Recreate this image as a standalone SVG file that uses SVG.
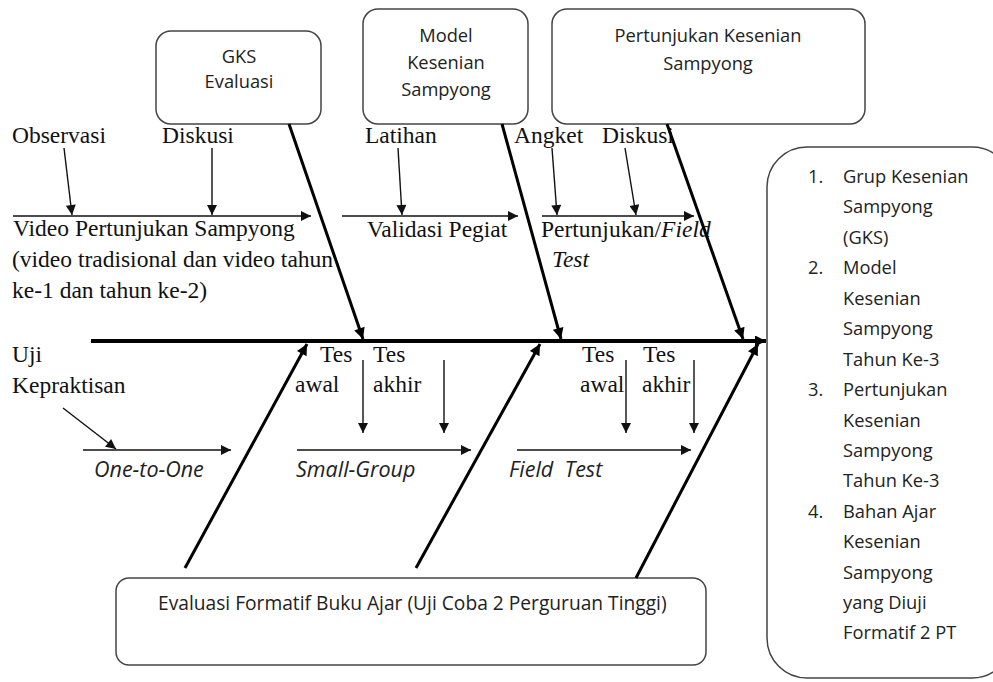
<svg xmlns="http://www.w3.org/2000/svg" width="993" height="682" viewBox="0 0 993 682">
<style>
.box{fill:#fff;stroke:#444;stroke-width:1.5}
.s{font-family:"Liberation Serif","Times New Roman",serif;font-size:23.5px;fill:#111}
.b{font-family:"Open Sans","Liberation Sans",sans-serif;font-size:18.3px;fill:#222}
.bc{text-anchor:middle}
.i{font-family:"Open Sans","Liberation Sans",sans-serif;font-style:italic;font-size:21.5px;fill:#222}
.thin{stroke:#111;stroke-width:1.4;fill:none;marker-end:url(#a)}
.thick{stroke:#000;stroke-width:3;fill:none;marker-end:url(#A)}
</style>
<defs>
<marker id="a" viewBox="0 0 10 10" refX="10" refY="5" markerWidth="12" markerHeight="10" markerUnits="userSpaceOnUse" orient="auto"><path d="M0,0 L10,5 L0,10 z" fill="#111"/></marker>
<marker id="A" viewBox="0 0 10 10" refX="10" refY="5" markerWidth="13" markerHeight="11" markerUnits="userSpaceOnUse" orient="auto"><path d="M0,0 L10,5 L0,10 z" fill="#000"/></marker>
</defs>
<rect width="993" height="682" fill="#fff"/>

<g id="gks">
<rect class="box" x="156" y="31" width="165" height="93" rx="15"/>
<text class="b bc" x="239" y="63">GKS</text>
<text class="b bc" x="239" y="88">Evaluasi</text>
</g>
<g id="model">
<rect class="box" x="363" y="9" width="165" height="115" rx="15"/>
<text class="b bc" x="446" y="42">Model</text>
<text class="b bc" x="446" y="69">Kesenian</text>
<text class="b bc" x="446" y="96">Sampyong</text>
</g>
<g id="pertunjukan">
<rect class="box" x="552" y="9" width="313" height="115" rx="15"/>
<text class="b bc" x="708" y="42">Pertunjukan Kesenian</text>
<text class="b bc" x="708" y="70">Sampyong</text>
</g>
<g id="evaluasi">
<rect class="box" x="116" y="578" width="590" height="87" rx="13"/>
<text class="b" x="158" y="610" style="font-size:19.2px">Evaluasi Formatif Buku Ajar (Uji Coba 2 Perguruan Tinggi)</text>
</g>
<g id="hasil">
<rect class="box" x="767" y="147" width="245" height="531" rx="40"/>
<text class="b" x="808" y="183">1.</text><text class="b" x="843" y="183">Grup Kesenian</text>
<text class="b" x="843" y="213">Sampyong</text>
<text class="b" x="843" y="244">(GKS)</text>
<text class="b" x="808" y="274">2.</text><text class="b" x="843" y="274">Model</text>
<text class="b" x="843" y="305">Kesenian</text>
<text class="b" x="843" y="335">Sampyong</text>
<text class="b" x="843" y="366">Tahun Ke-3</text>
<text class="b" x="808" y="396">3.</text><text class="b" x="843" y="396">Pertunjukan</text>
<text class="b" x="843" y="427">Kesenian</text>
<text class="b" x="843" y="457">Sampyong</text>
<text class="b" x="843" y="487">Tahun Ke-3</text>
<text class="b" x="808" y="518">4.</text><text class="b" x="843" y="518">Bahan Ajar</text>
<text class="b" x="843" y="548">Kesenian</text>
<text class="b" x="843" y="579">Sampyong</text>
<text class="b" x="843" y="609">yang Diuji</text>
<text class="b" x="843" y="639">Formatif 2 PT</text>
</g>

<g id="labels">
<text class="s" x="12" y="143">Observasi</text>
<text class="s" x="162" y="143">Diskusi</text>
<text class="s" x="365" y="143">Latihan</text>
<text class="s" x="514" y="143">Angket</text>
<text class="s" x="602" y="143">Diskusi</text>
<text class="s" x="13" y="236">Video Pertunjukan Sampyong</text>
<text class="s" x="12" y="267">(video tradisional dan video tahun</text>
<text class="s" x="12" y="298">ke-1 dan tahun ke-2)</text>
<text class="s" x="367" y="237">Validasi Pegiat</text>
<text class="s" x="541" y="237">Pertunjukan/<tspan font-style="italic">Field</tspan></text>
<text class="s" x="552" y="267" font-style="italic">Test</text>
<text class="s" x="12" y="362">Uji</text>
<text class="s" x="12" y="393">Kepraktisan</text>
<text class="s" x="320" y="362">Tes</text>
<text class="s" x="295" y="392">awal</text>
<text class="s" x="373" y="362">Tes</text>
<text class="s" x="373" y="392">akhir</text>
<text class="s" x="582" y="362">Tes</text>
<text class="s" x="580" y="392">awal</text>
<text class="s" x="643" y="362">Tes</text>
<text class="s" x="642" y="392">akhir</text>
<text class="i" x="94" y="477">One-to-One</text>
<text class="i" x="296" y="477">Small-Group</text>
<text class="i" x="509" y="477" xml:space="preserve">Field  Test</text>
</g>

<g id="connectors">
<line x1="91" y1="341" x2="766" y2="341" stroke="#000" stroke-width="4" marker-end="url(#A)"/>
<line class="thick" x1="289" y1="124" x2="363" y2="339"/>
<line class="thick" x1="502" y1="124" x2="561" y2="339"/>
<line class="thick" x1="667" y1="124" x2="743" y2="339"/>
<line class="thick" x1="185" y1="568" x2="307" y2="344"/>
<line class="thick" x1="416" y1="568" x2="540" y2="344"/>
<line class="thick" x1="636" y1="578" x2="758" y2="344"/>
<line class="thin" x1="64" y1="148" x2="72" y2="215"/>
<line class="thin" x1="212" y1="148" x2="212" y2="215"/>
<line class="thin" x1="13" y1="216" x2="311" y2="216"/>
<line class="thin" x1="398" y1="148" x2="402" y2="215"/>
<line class="thin" x1="342" y1="216" x2="518" y2="216"/>
<line class="thin" x1="552" y1="148" x2="557" y2="215"/>
<line class="thin" x1="625" y1="148" x2="636" y2="215"/>
<line class="thin" x1="542" y1="216" x2="694" y2="216"/>
<line class="thin" x1="63" y1="408" x2="116" y2="449"/>
<line class="thin" x1="83" y1="450" x2="231" y2="450"/>
<line class="thin" x1="363" y1="360" x2="363" y2="433"/>
<line class="thin" x1="444" y1="360" x2="444" y2="433"/>
<line class="thin" x1="626" y1="360" x2="626" y2="433"/>
<line class="thin" x1="694" y1="360" x2="694" y2="433"/>
<line class="thin" x1="297" y1="450" x2="471" y2="450"/>
<line class="thin" x1="517" y1="450" x2="691" y2="450"/>
</g>
</svg>
